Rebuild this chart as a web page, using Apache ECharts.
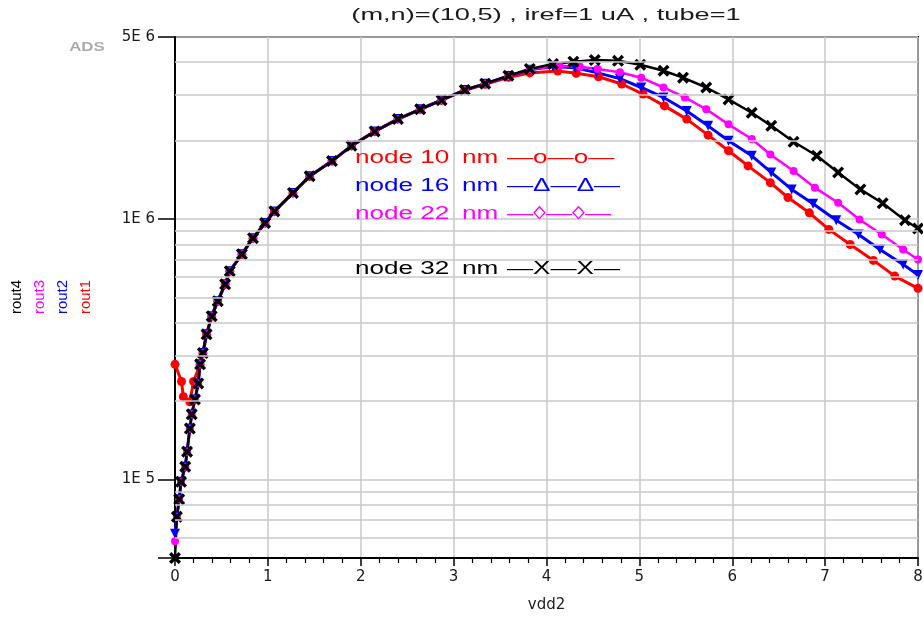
<!DOCTYPE html>
<html><head><meta charset="utf-8">
<script src="https://cdn.jsdelivr.net/npm/echarts@6/dist/echarts.min.js"></script>
<style>html,body{margin:0;padding:0;background:#fff}#c{width:923px;height:623px}</style>
</head><body><div id="c"></div>
<script>
// ---- data ----
const seriesNames = ['rout1', 'rout2', 'rout3', 'rout4'];

const x1 = [0,0.07,0.09,0.16,0.2,0.27,0.30,0.34,0.395,0.46,0.54,0.59,0.72,0.84,0.97,1.07,1.27,1.45,1.69,1.90,2.15,2.40,2.64,2.87,3.12,3.34,3.59,3.82,4.12,4.32,4.56,4.81,5.04,5.27,5.51,5.74,5.96,6.17,6.41,6.60,6.83,7.04,7.27,7.52,7.75,8];
const y1 = [2.77e5,2.38e5,2.08e5,1.99e5,2.38e5,2.77e5,3.06e5,3.61e5,4.24e5,4.84e5,5.62e5,6.31e5,7.33e5,8.45e5,9.66e5,1.07e6,1.26e6,1.46e6,1.67e6,1.91e6,2.17e6,2.42e6,2.64e6,2.86e6,3.12e6,3.29e6,3.50e6,3.64e6,3.70e6,3.63e6,3.52e6,3.30e6,3.02e6,2.72e6,2.42e6,2.10e6,1.83e6,1.60e6,1.38e6,1.21e6,1.057e6,9.13e5,7.99e5,6.94e5,6.04e5,5.42e5];

const x2 = [0,0.02,0.045,0.065,0.11,0.13,0.16,0.18,0.215,0.25,0.27,0.30,0.34,0.395,0.46,0.54,0.59,0.72,0.84,0.97,1.07,1.27,1.45,1.69,1.90,2.15,2.40,2.64,2.87,3.12,3.34,3.59,3.82,4.07,4.31,4.54,4.79,5.02,5.26,5.51,5.74,5.96,6.21,6.42,6.64,6.87,7.12,7.36,7.59,7.84,8];
const y2 = [6.2e4,7.2e4,8.4e4,9.8e4,1.12e5,1.28e5,1.57e5,1.78e5,2.03e5,2.34e5,2.77e5,3.06e5,3.61e5,4.24e5,4.84e5,5.62e5,6.31e5,7.33e5,8.45e5,9.66e5,1.07e6,1.26e6,1.46e6,1.67e6,1.91e6,2.17e6,2.42e6,2.64e6,2.86e6,3.13e6,3.31e6,3.54e6,3.74e6,3.85e6,3.81e6,3.65e6,3.46e6,3.20e6,2.93e6,2.60e6,2.28e6,2.00e6,1.75e6,1.51e6,1.30e6,1.146e6,9.89e5,8.73e5,7.64e5,6.70e5,6.1e5];

const x3 = [0,0.02,0.045,0.065,0.11,0.13,0.16,0.18,0.215,0.25,0.27,0.30,0.34,0.395,0.46,0.54,0.59,0.72,0.84,0.97,1.07,1.27,1.45,1.69,1.90,2.15,2.40,2.64,2.87,3.12,3.34,3.59,3.82,4.14,4.36,4.55,4.79,5.02,5.26,5.49,5.72,5.96,6.21,6.41,6.66,6.89,7.14,7.37,7.61,7.84,8];
const y3 = [5.8e4,7.2e4,8.4e4,9.8e4,1.12e5,1.28e5,1.57e5,1.78e5,2.03e5,2.34e5,2.77e5,3.06e5,3.61e5,4.24e5,4.84e5,5.62e5,6.31e5,7.33e5,8.45e5,9.66e5,1.07e6,1.26e6,1.46e6,1.67e6,1.91e6,2.17e6,2.42e6,2.64e6,2.86e6,3.13e6,3.31e6,3.54e6,3.76e6,3.88e6,3.84e6,3.77e6,3.66e6,3.49e6,3.20e6,2.93e6,2.64e6,2.31e6,2.03e6,1.77e6,1.53e6,1.32e6,1.155e6,9.97e5,8.73e5,7.64e5,7.0e5];

const x4 = [0,0.02,0.045,0.065,0.11,0.13,0.16,0.18,0.215,0.25,0.27,0.30,0.34,0.395,0.46,0.54,0.59,0.72,0.84,0.97,1.07,1.27,1.45,1.69,1.90,2.15,2.40,2.64,2.87,3.12,3.34,3.59,3.82,4.07,4.29,4.52,4.77,5.01,5.26,5.47,5.72,5.96,6.21,6.42,6.66,6.91,7.14,7.38,7.62,7.86,8];
const y4 = [5.0e4,7.2e4,8.4e4,9.8e4,1.12e5,1.28e5,1.57e5,1.78e5,2.03e5,2.34e5,2.77e5,3.06e5,3.61e5,4.24e5,4.84e5,5.62e5,6.31e5,7.33e5,8.45e5,9.66e5,1.07e6,1.26e6,1.46e6,1.67e6,1.91e6,2.17e6,2.42e6,2.64e6,2.86e6,3.13e6,3.31e6,3.55e6,3.77e6,3.94e6,4.02e6,4.08e6,4.05e6,3.91e6,3.71e6,3.49e6,3.20e6,2.88e6,2.56e6,2.28e6,1.98e6,1.75e6,1.51e6,1.30e6,1.15e6,9.9e5,9.2e5];

const xTicks = [0,1,2,3,4,5,6,7,8];
const yRange = [5e4, 5e6];
const minorGridY = [6e4,7e4,8e4,9e4,2e5,3e5,4e5,5e5,6e5,7e5,8e5,9e5,2e6,3e6,4e6];

const titleText = '(m,n)=(10,5) , iref=1 uA , tube=1';
const legendRows = [
  ['node 10', 'nm', '\u2014o\u2014o\u2014'],
  ['node 16', 'nm', '\u2014\u0394\u2014\u0394\u2014'],
  ['node 22', 'nm', '\u2014\u25CA\u2014\u25CA\u2014'],
  ['node 32', 'nm', '\u2014X\u2014X\u2014']
];

// ---- styling ----
const colors = ['#ff0000', '#0000ff', '#ff00ff', '#000000'];
const xs = [x1, x2, x3, x4], ys = [y1, y2, y3, y4];
const symbols = ['circle', 'triangle', 'circle', 'path://M2,0 L5,3 L8,0 L10,2 L7,5 L10,8 L8,10 L5,7 L2,10 L0,8 L3,5 L0,2 Z'];
const symbolSizes = [9, 10, 8, 12];
const symbolRot = [0, 180, 0, 0];
const lineWidths = [3, 3, 2.5, 2.5];

const chart = echarts.init(document.getElementById('c'), null, {renderer: 'canvas'});

const series = seriesNames.map((n, i) => ({
  name: n, type: 'line',
  data: xs[i].map((x, k) => [x, ys[i][k]]),
  showSymbol: true, showAllSymbol: true,
  symbol: symbols[i], symbolSize: symbolSizes[i], symbolRotate: symbolRot[i],
  itemStyle: {color: colors[i]},
  lineStyle: {color: colors[i], width: lineWidths[i]},
  emphasis: {disabled: true}, silent: true, clip: false
}));

series.unshift({
  type: 'line', data: [], silent: true, z: 1,
  markLine: {
    silent: true, symbol: ['none', 'none'], label: {show: false}, animation: false,
    lineStyle: {color: '#c8c8c8', width: 1.5, type: 'solid'},
    data: minorGridY.map(v => ({yAxis: v}))
  }
});

function fmtE(v) {
  const e = Math.floor(Math.log10(v) + 1e-6);
  const m = Math.round(v / Math.pow(10, e));
  if (Math.abs(v - yRange[0]) / yRange[0] < 1e-3) return '';
  return m + 'E ' + e;
}

const labelFont = {fontFamily: '"DejaVu Sans"', fontSize: 15, color: '#1a1a1a'};

const legendGraphics = [];
const rowY = [158, 186, 214, 269];
const legendColors = ['#ff0000', '#0000ff', '#ff00ff', '#000000'];
legendRows.forEach((row, i) => {
  const xsPos = [355, 462, 507];
  row.forEach((t, j) => {
    legendGraphics.push({
      type: 'text', x: xsPos[j], y: rowY[i], scaleX: 1.45, silent: true, z: 100,
      style: {text: t, font: '18px "Liberation Sans", Arial', fill: legendColors[i],
              align: 'left', textAlign: 'left', verticalAlign: 'middle', textVerticalAlign: 'middle'}
    });
  });
});

const routGraphics = seriesNames.slice().reverse().map((n, i) => ({
  type: 'text', x: [17, 40, 63, 86][i], y: 297, rotation: Math.PI / 2, silent: true,
  style: {text: n, font: '15px "Liberation Sans", Arial', fill: colors[3 - i],
          align: 'center', textAlign: 'center', verticalAlign: 'middle', textVerticalAlign: 'middle'}
}));

chart.setOption({
  animation: false,
  backgroundColor: '#ffffff',
  grid: {left: 175, right: 5, top: 37, bottom: 65, show: true, borderColor: '#111', borderWidth: 2,
         containLabel: false, outerBoundsMode: 'none'},
  xAxis: {
    type: 'value', min: xTicks[0], max: xTicks[xTicks.length - 1], interval: 1,
    name: 'vdd2', nameLocation: 'middle', nameGap: 40,
    nameTextStyle: {fontFamily: '"DejaVu Sans"', fontSize: 15, color: '#222'},
    axisLine: {show: true, onZero: false, lineStyle: {color: '#000', width: 2}},
    axisTick: {show: true, length: 8, lineStyle: {color: '#000', width: 1.5}},
    minorTick: {show: true, splitNumber: 5, length: 5, lineStyle: {color: '#000', width: 1.2}},
    axisLabel: Object.assign({margin: 12}, labelFont),
    splitLine: {show: true, lineStyle: {color: '#c8c8c8', width: 1.5}}
  },
  yAxis: {
    type: 'log', logBase: 10, min: yRange[0], max: yRange[1],
    axisLine: {show: true, onZero: false, lineStyle: {color: '#000', width: 2}},
    axisTick: {show: true, length: 17, lineStyle: {color: '#000', width: 1.5}},
    axisLabel: Object.assign({margin: 20, formatter: fmtE, showMinLabel: true, showMaxLabel: true}, labelFont),
    splitLine: {show: true, lineStyle: {color: '#c8c8c8', width: 1.5}}
  },
  graphic: [
    {type: 'text', x: 546, y: 15, scaleX: 1.6, silent: true,
     style: {text: titleText, font: '17px "Liberation Sans", Arial', fill: '#1a1a1a',
             align: 'center', textAlign: 'center', verticalAlign: 'middle', textVerticalAlign: 'middle'}},
    {type: 'text', x: 87, y: 47, scaleX: 1.3, silent: true,
     style: {text: 'ADS', font: 'bold 13px "Liberation Sans", Arial', fill: '#ababab',
             align: 'center', textAlign: 'center', verticalAlign: 'middle', textVerticalAlign: 'middle'}}
  ].concat(legendGraphics, routGraphics),
  series: series
});
</script>
</body></html>
